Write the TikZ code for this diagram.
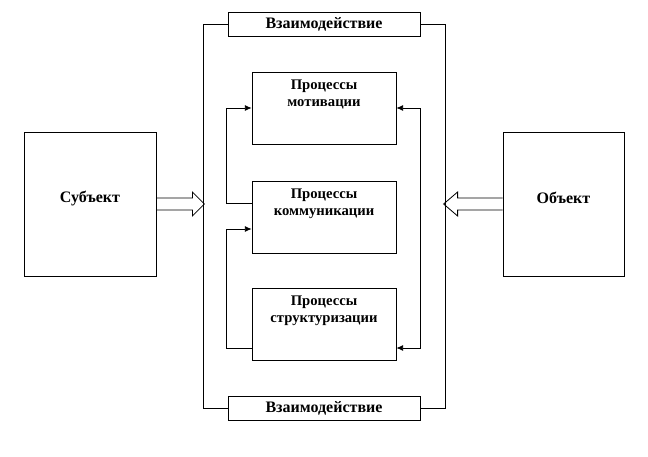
\documentclass[tikz,border=0pt]{standalone}
\usepackage{fontspec}
\setmainfont{Liberation Serif}
\usetikzlibrary{arrows.meta,positioning,calc}

\tikzset{
	box/.style={draw, inner sep=0pt},
	procbox/.style={box, minimum width=108pt, minimum height=54pt},
	vzbox/.style={box, minimum width=144pt, minimum height=18pt, font=\fontsize{12}{13}\selectfont\bfseries},
	sidebox/.style={box, minimum height=108pt},
	lbl/.style={inner sep=0pt, align=center, font=\fontsize{11}{12.75}\selectfont\bfseries},
	sidelbl/.style={lbl, font=\fontsize{12}{13}\selectfont\bfseries},
	fb/.style={-{Latex[length=5pt,width=4.5pt]}}
}

\begin{document}
\begin{tikzpicture}[x=0.75pt,y=0.75pt,yscale=-1,xscale=1,line width=0.6pt]
	\useasboundingbox (0,0) rectangle (648,456);
	% interaction frame
	\node[vzbox] (vtop) at (324,24) {Взаимодействие};
	\node[vzbox] (vbot) at (324,408) {Взаимодействие};
	\draw (vtop.west) -- ++(-24,0) |- (vbot.west);
	\draw (vtop.east) -- ++(25,0) |- (vbot.east);
	% processes
	\node[procbox] (motiv) at (324,108) {};
	\node[procbox] (comm) at (324,217) {};
	\node[procbox] (struct) at (324,324) {};
	\node[lbl, below=6pt of motiv.north] (motivtxt) {Процессы\\мотивации};
	\node[lbl, below=6pt of comm.north] (commtxt) {Процессы\\коммуникации};
	\node[lbl, below=6pt of struct.north] (structtxt) {Процессы\\структуризации};
	% feedback
	\draw[fb] ($(comm.west)+(0,-14)$) -- ++(-25,0) |- (motiv.west);
	\draw[fb] ($(struct.west)+(0,24)$) -- ++(-25,0) |- ($(comm.west)+(0,12)$);
	\draw[{Latex[length=5pt,width=4.5pt]}-{Latex[length=5pt,width=4.5pt]}] (motiv.east) -- ++(24,0) |- ($(struct.east)+(0,24)$);
	% subject and object
	\node[sidebox, minimum width=99pt] (subj) at (90,204) {};
	\node[sidelbl] (subjtxt) at ($(subj)+(0,-6)$) {Субъект};
	\node[sidebox, minimum width=90.75pt] (obj) at (563.5,204) {};
	\node[sidelbl] (objtxt) at ($(obj)+(0,-6)$) {Объект};
	\draw (subj.east) ++(0,-6) -- ++(36,0) -- ++(0,-6) -- ++(12,12) -- ++(-12,12) -- ++(0,-6) -- ++(-36,0);
	\draw (obj.west) ++(0,-6) -- ++(-45,0) -- ++(0,-6) -- ++(-14,12) -- ++(14,12) -- ++(0,-6) -- ++(45,0);
\end{tikzpicture}
\end{document}
